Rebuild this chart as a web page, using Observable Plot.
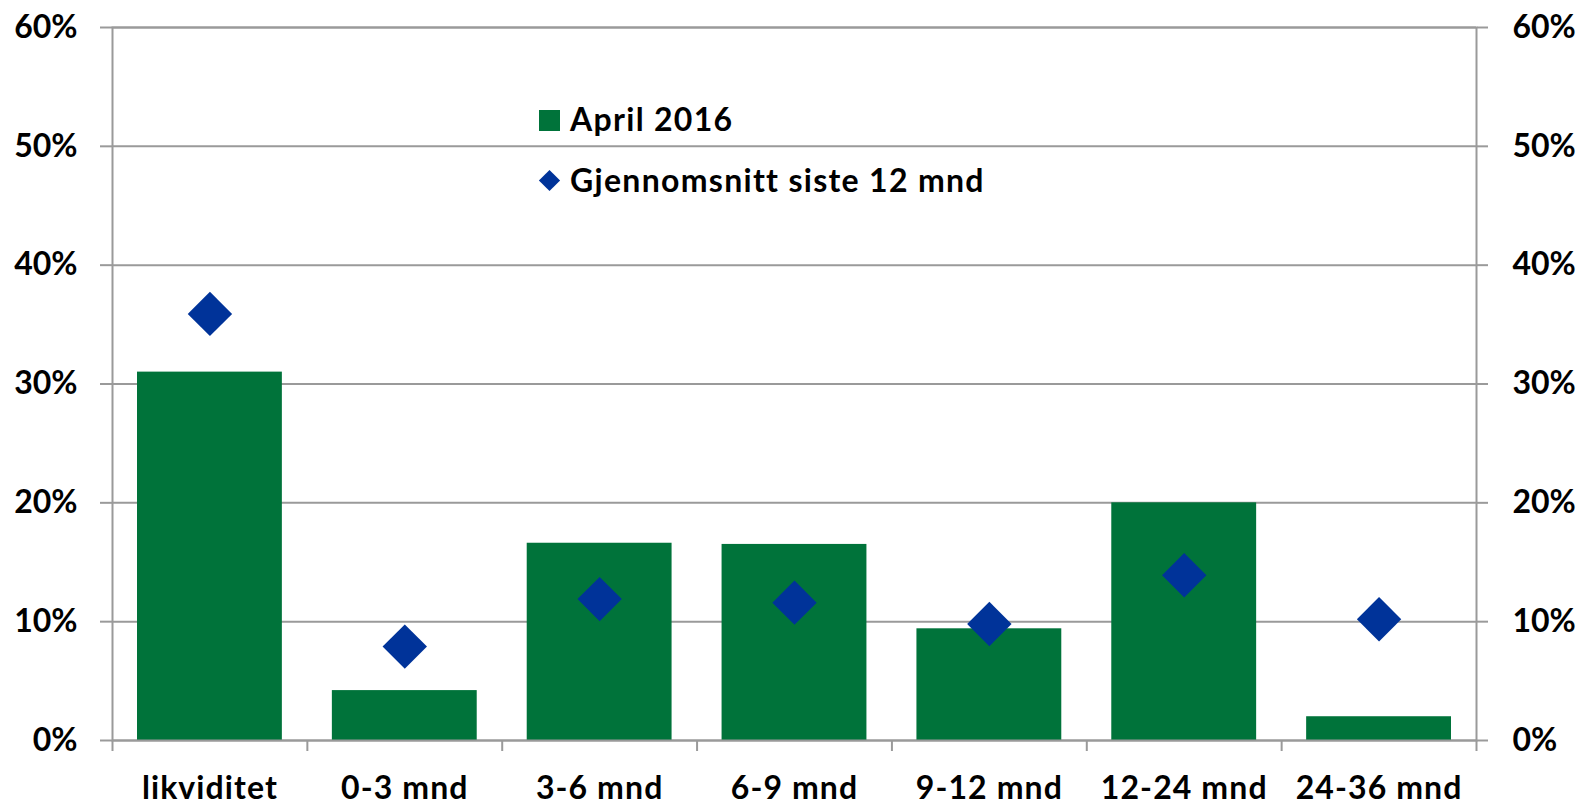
<!DOCTYPE html>
<html>
<head>
<meta charset="utf-8">
<script src="https://cdn.jsdelivr.net/npm/d3@7"></script>
<script src="https://cdn.jsdelivr.net/npm/@observablehq/plot@0.6"></script>
<style>
  html, body { margin: 0; padding: 0; background: #fff; }
  #wrap { position: relative; width: 1581px; height: 805px; font-family: Lato, "Open Sans", sans-serif; font-weight: bold; }
  .leg { position: absolute; font-size: 32px; line-height: 32px; color: #000; white-space: nowrap; letter-spacing: 1.3px; }
  .sq { position: absolute; width: 21px; height: 21px; background: #00733A; }
  .dm { position: absolute; width: 15px; height: 15px; background: #003399; transform: rotate(45deg); }
  .xlab text { letter-spacing: 1.1px; }
</style>
</head>
<body>
<div id="wrap"></div>
<script>
const categories = ["likviditet", "0-3 mnd", "3-6 mnd", "6-9 mnd", "9-12 mnd", "12-24 mnd", "24-36 mnd"];
const april2016 = [0.31, 0.042, 0.166, 0.165, 0.094, 0.200, 0.020];
const snitt12 = [0.359, 0.079, 0.119, 0.116, 0.098, 0.139, 0.102];
const yTicks = [0, 0.1, 0.2, 0.3, 0.4, 0.5, 0.6];
const seriesNames = ["April 2016", "Gjennomsnitt siste 12 mnd"];

const data = categories.map((c, i) => ({i, c, bar: april2016[i], avg: snitt12[i]}));
const green = "#00733A", blue = "#003399", gray = "#9a9a9a";
const pct = d => `${Math.round(d * 100)}%`;

const chart = Plot.plot({
  width: 1581,
  height: 805,
  marginLeft: 112,
  marginRight: 105,
  marginTop: 27,
  marginBottom: 65,
  style: {fontFamily: "Lato, 'Open Sans', sans-serif", fontSize: "32px", fontWeight: "bold", color: "#000", background: "#fff"},
  x: {type: "linear", domain: [0, categories.length], label: null},
  y: {domain: [0, 0.6], label: null},
  marks: [
    Plot.gridY(yTicks, {stroke: gray, strokeOpacity: 1, strokeWidth: 2}),
    Plot.rectY(data, {x1: "i", x2: d => d.i + 1, y: "bar", fill: green, insetLeft: 25, insetRight: 25}),
    Plot.dot(data, {x: d => d.i + 0.5, y: "avg", symbol: "diamond2", r: 20, fill: blue, stroke: "none"}),
    Plot.frame({stroke: gray, strokeWidth: 2}),
    Plot.axisY(yTicks, {anchor: "left", label: null, tickSize: 12, tickPadding: 23, tickFormat: pct, stroke: gray, strokeWidth: 2, fill: "#000"}),
    Plot.axisY(yTicks, {anchor: "right", label: null, tickSize: 11, tickPadding: 25, tickFormat: pct, stroke: gray, strokeWidth: 2, fill: "#000"}),
    Plot.axisX(d3.range(categories.length + 1), {anchor: "bottom", label: null, tickSize: 11, tickFormat: () => "", stroke: gray, strokeWidth: 2}),
    Plot.axisX(data.map(d => d.i + 0.5), {anchor: "bottom", label: null, className: "xlab", tickSize: 0, tickPadding: 36, tickFormat: (d) => categories[Math.floor(d)], fill: "#000"})
  ]
});

const wrap = document.getElementById("wrap");
wrap.appendChild(chart);

const legend = [
  {cls: "sq", mx: 539, my: 110, tx: 570, ty: 103, label: seriesNames[0]},
  {cls: "dm", mx: 542, my: 173, tx: 570, ty: 164, label: seriesNames[1]}
];
for (const l of legend) {
  const m = document.createElement("div");
  m.className = l.cls;
  m.style.left = l.mx + "px";
  m.style.top = l.my + "px";
  wrap.appendChild(m);
  const t = document.createElement("div");
  t.className = "leg";
  t.style.left = l.tx + "px";
  t.style.top = l.ty + "px";
  t.textContent = l.label;
  wrap.appendChild(t);
}
</script>
</body>
</html>
